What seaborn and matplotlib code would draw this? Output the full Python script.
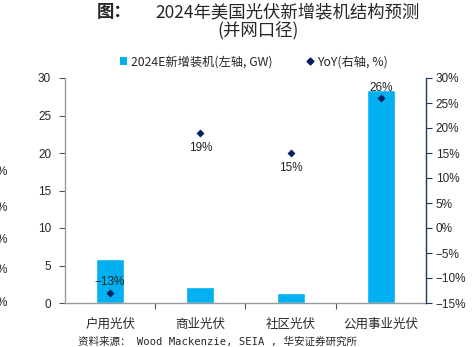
import matplotlib
matplotlib.use("Agg")
import matplotlib.pyplot as plt
import seaborn as sns
import pandas as pd
from matplotlib.ticker import FuncFormatter
from matplotlib.lines import Line2D
from matplotlib.patches import Patch

categories = ["户用光伏", "商业光伏", "社区光伏", "公用事业光伏"]
capacity_gw = [5.9, 2.2, 1.3, 28.4]
yoy_pct = [-13, 19, 15, 26]
yoy_labels = ["-13%", "19%", "15%", "26%"]

sns.set_theme(style="white")
plt.rcParams['font.family'] = ['Liberation Sans', 'Noto Sans CJK SC', 'DejaVu Sans']
plt.rcParams['axes.unicode_minus'] = True

df = pd.DataFrame({"cat": categories, "gw": capacity_gw, "yoy": yoy_pct})

fig = plt.figure(figsize=(4.76, 3.47), dpi=100)
ax = fig.add_axes([65/476, 1-303/347, (426-65)/476, (303-78)/347])

sns.barplot(data=df, x="cat", y="gw", color="#00B0F0", saturation=1, width=0.31, ax=ax)
ax.set_ylim(0, 30)
ax.set_yticks(range(0, 31, 5))
ax.set_xlabel("")
ax.set_ylabel("")
ax.set_xlim(-0.5, 3.5)

ax2 = ax.twinx()
sns.scatterplot(data=df, x="cat", y="yoy", marker="D", color="#002060", s=14, ax=ax2, zorder=5, edgecolor="#002060")
ax2.set_ylim(-15, 30)
ax2.set_yticks(range(-15, 31, 5))
ax2.yaxis.set_major_formatter(FuncFormatter(lambda v, p: f"{int(v)}%".replace("-", "\u2212")))
ax2.set_ylabel("")
ax2.set_xlim(-0.5, 3.5)

offsets = [8, -10.5, -10.5, 7.5]
for i, (v, lab) in enumerate(zip(yoy_pct, yoy_labels)):
    ax2.annotate(lab.replace("-", "\u2212"), (i, v), xytext=(0, offsets[i]), textcoords="offset points",
                 ha="center", va="center", fontsize=8.5, color="#222222")

for a in (ax, ax2):
    for s in a.spines.values():
        s.set_visible(False)
ax.spines['left'].set_visible(True)
ax.spines['left'].set_color("#999999")
ax.spines['bottom'].set_visible(True)
ax.spines['bottom'].set_color("#999999")
ax2.spines['right'].set_visible(True)
ax2.spines['right'].set_color("#1F3864")
for s in ('left', 'bottom'):
    ax.spines[s].set_linewidth(1.0)
ax2.spines['right'].set_linewidth(1.0)

ax.tick_params(axis='y', which='both', left=True, length=4, width=0.8, color="#555555", labelsize=8.5, pad=6)
ax.set_xticks([0, 1, 2, 3])
ax.set_xticks([0.5, 1.5, 2.5], minor=True)
ax.tick_params(axis='x', which='major', bottom=False, labelsize=9, pad=5)
ax.tick_params(axis='x', which='minor', bottom=True, length=4, width=0.8, color="#555555")
ax.set_xticklabels(categories, fontfamily=['Noto Sans CJK SC'])
ax2.tick_params(axis='y', right=True, length=4, width=0.8, color="#1F3864", labelsize=8.5, pad=3)
ax.grid(False)
ax2.grid(False)

fig.text(97/476, 1-12/347, "图：", ha="left", va="center", fontweight="bold",
         fontsize=12.5, fontfamily=['Noto Sans CJK SC', 'DejaVu Sans'])
fig.text(287/476, 1-12/347, "2024年美国光伏新增装机结构预测", ha="center", va="center",
         fontsize=12.5, fontfamily=['Noto Sans CJK SC', 'DejaVu Sans'])
fig.text(258/476, 1-31/347, "(并网口径)", ha="center", va="center",
         fontsize=12.5, fontfamily=['Noto Sans CJK SC', 'DejaVu Sans'])

handles = [Patch(facecolor="#00B0F0", edgecolor="none"),
           Line2D([], [], marker="D", color="#002060", linestyle="none", markersize=3.5)]
leg = fig.legend(handles, ["2024E新增装机(左轴, GW)", "YoY(右轴, %)"], loc="center",
                 bbox_to_anchor=(254/476, 1-62/347), ncol=2, frameon=False,
                 handlelength=0.6, handleheight=0.6, handletextpad=0.3, columnspacing=2.8,
                 prop={'family': ['Noto Sans CJK SC', 'DejaVu Sans'], 'size': 8.8})

fig.text(78/476, 1-342/347, "资料来源： Wood Mackenzie, SEIA , 华安证券研究所", ha="left", va="center",
         fontsize=7.6, fontfamily=['DejaVu Sans Mono', 'Noto Sans CJK SC', 'DejaVu Sans'])

for yy in [172, 208, 240, 270, 303]:
    fig.text(-3/476, 1-yy/347, "%", ha="left", va="center", fontsize=8.5)

fig.savefig("out.png", dpi=100)
